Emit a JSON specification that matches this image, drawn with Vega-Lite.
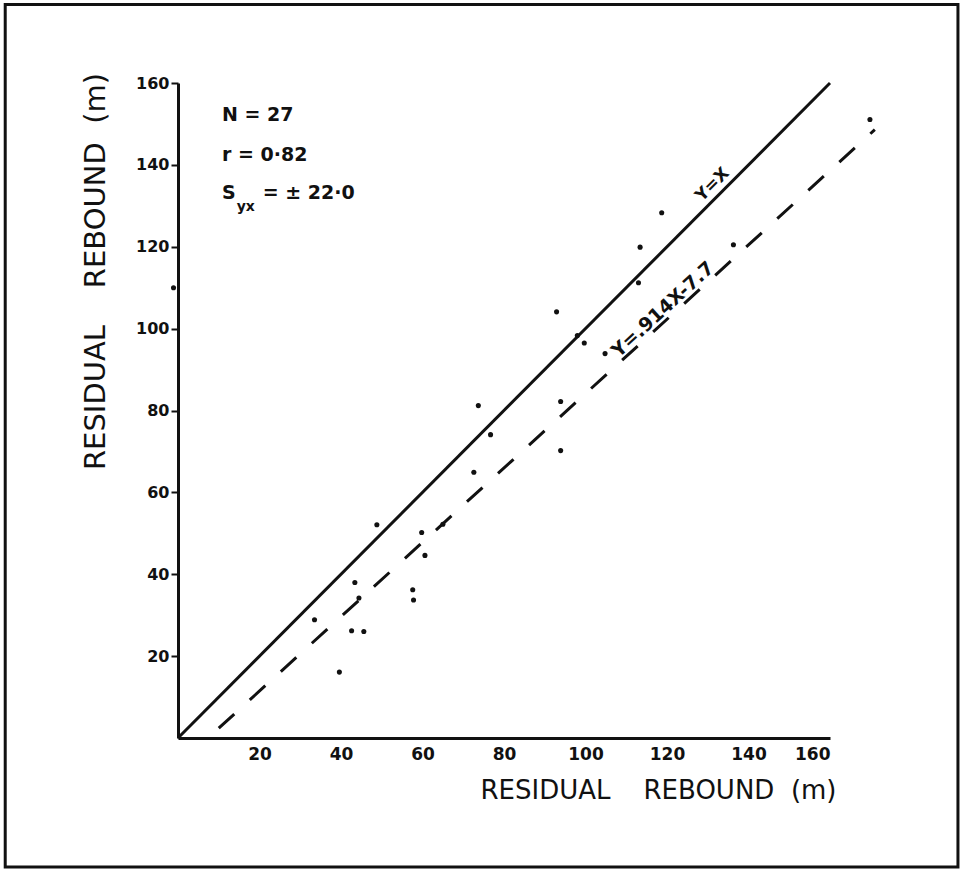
{
  "$schema": "https://vega.github.io/schema/vega-lite/v6.json",
  "autosize": {"type": "none"},
  "width": 652,
  "height": 655,
  "padding": {"left": 178, "top": 83, "right": 132, "bottom": 132},
  "background": "white",
  "config": {
    "view": {"stroke": null},
    "font": "DejaVu Sans",
    "axis": {"domainColor": "#111", "domainWidth": 3, "grid": false, "labelColor": "#111", "titleColor": "#111", "labelFont": "DejaVu Sans", "titleFont": "DejaVu Sans"}
  },
  "datasets": {
    "points": [
      {"x": 33.5, "y": 28.9}, {"x": 39.6, "y": 16.1}, {"x": 42.6, "y": 26.2}, {"x": 45.6, "y": 26.0},
      {"x": 43.4, "y": 38.0}, {"x": 44.4, "y": 34.2}, {"x": 48.8, "y": 52.1}, {"x": 57.6, "y": 36.2},
      {"x": 57.8, "y": 33.7}, {"x": 59.8, "y": 50.2}, {"x": 60.6, "y": 44.6}, {"x": 65.0, "y": 52.2},
      {"x": 72.6, "y": 64.9}, {"x": 73.7, "y": 81.2}, {"x": 76.7, "y": 74.1}, {"x": 92.9, "y": 104.1},
      {"x": 93.9, "y": 82.2}, {"x": 93.9, "y": 70.2}, {"x": 98.0, "y": 98.3}, {"x": 99.7, "y": 96.5},
      {"x": 104.8, "y": 93.9}, {"x": 113.0, "y": 111.2}, {"x": 113.4, "y": 119.9}, {"x": 118.7, "y": 128.3},
      {"x": 136.3, "y": 120.5}, {"x": 169.8, "y": 151.1}, {"x": -1.1, "y": 110.0}
    ],
    "oneToOne": [{"x": 0, "y": 0}, {"x": 160, "y": 160}],
    "regression": [{"x": 10, "y": 2.4}, {"x": 171, "y": 148.6}],
    "frame": [{"x1": -42.4, "x2": 191.4, "y1": -31.5, "y2": 179.2}],
    "stats": [
      {"x": 10.8, "y": 152.3, "t": "N = 27"},
      {"x": 10.8, "y": 142.5, "t": "r = 0·82"},
      {"x": 10.8, "y": 133.2, "t": "S"}
    ],
    "sub": [{"x": 14.4, "y": 131.4, "t": "yx"}],
    "stats2": [{"x": 20.8, "y": 133.2, "t": "= ± 22·0"}],
    "lab1": [{"x": 132, "y": 134.3, "t": "Y=X"}],
    "lab2": [{"x": 120, "y": 103.6, "t": "Y=.914X-7.7"}]
  },
  "layer": [
    {
      "data": {"name": "frame"},
      "mark": {"type": "rect", "fill": null, "stroke": "#111", "strokeWidth": 3, "clip": false},
      "encoding": {
        "x": {"field": "x1", "type": "quantitative", "scale": {"domain": [0, 160], "nice": false, "zero": false},
          "axis": {"values": [20, 40, 60, 80, 100, 120, 140, 160], "ticks": false, "labelFontSize": 17, "labelFontWeight": "bold", "labelPadding": 8,
            "title": "RESIDUAL\u00a0\u00a0\u00a0\u00a0REBOUND\u00a0\u00a0(m)", "titleFontSize": 26, "titleFontWeight": "normal", "titleAlign": "right", "titleX": 658, "titleY": 52, "titleBaseline": "middle"}},
        "x2": {"field": "x2"},
        "y": {"field": "y1", "type": "quantitative", "scale": {"domain": [0, 160], "nice": false, "zero": false},
          "axis": {"values": [20, 40, 60, 80, 100, 120, 140, 160], "ticks": true, "tickSize": 7, "tickWidth": 2, "tickColor": "#111", "labelFontSize": 16, "labelFontWeight": "bold", "labelPadding": 2,
            "title": "RESIDUAL\u00a0\u00a0\u00a0\u00a0REBOUND\u00a0\u00a0(m)", "titleFontSize": 29, "titleFontWeight": "normal", "titleAngle": -90, "titleAlign": "center", "titleBaseline": "middle", "titleX": -83, "titleY": 188}},
        "y2": {"field": "y2"}
      }
    },
    {
      "data": {"name": "oneToOne"},
      "mark": {"type": "line", "color": "#111", "strokeWidth": 3},
      "encoding": {"x": {"field": "x", "type": "quantitative"}, "y": {"field": "y", "type": "quantitative"}}
    },
    {
      "data": {"name": "regression"},
      "mark": {"type": "line", "color": "#111", "strokeWidth": 3, "strokeDash": [21, 21], "clip": false},
      "encoding": {"x": {"field": "x", "type": "quantitative"}, "y": {"field": "y", "type": "quantitative"}}
    },
    {
      "data": {"name": "points"},
      "mark": {"type": "circle", "color": "#111", "opacity": 1, "size": 26, "clip": false},
      "encoding": {"x": {"field": "x", "type": "quantitative"}, "y": {"field": "y", "type": "quantitative"}}
    },
    {
      "data": {"name": "stats"},
      "mark": {"type": "text", "align": "left", "baseline": "middle", "fontSize": 19, "fontWeight": "bold", "color": "#111"},
      "encoding": {"x": {"field": "x", "type": "quantitative"}, "y": {"field": "y", "type": "quantitative"}, "text": {"field": "t"}}
    },
    {
      "data": {"name": "sub"},
      "mark": {"type": "text", "align": "left", "baseline": "top", "fontSize": 14, "fontWeight": "bold", "color": "#111"},
      "encoding": {"x": {"field": "x", "type": "quantitative"}, "y": {"field": "y", "type": "quantitative"}, "text": {"field": "t"}}
    },
    {
      "data": {"name": "stats2"},
      "mark": {"type": "text", "align": "left", "baseline": "middle", "fontSize": 19, "fontWeight": "bold", "color": "#111"},
      "encoding": {"x": {"field": "x", "type": "quantitative"}, "y": {"field": "y", "type": "quantitative"}, "text": {"field": "t"}}
    },
    {
      "data": {"name": "lab1"},
      "mark": {"type": "text", "align": "center", "baseline": "alphabetic", "angle": -45, "fontSize": 17, "fontWeight": "bold", "color": "#111"},
      "encoding": {"x": {"field": "x", "type": "quantitative"}, "y": {"field": "y", "type": "quantitative"}, "text": {"field": "t"}}
    },
    {
      "data": {"name": "lab2"},
      "mark": {"type": "text", "align": "center", "baseline": "alphabetic", "angle": -42.5, "fontSize": 19, "fontWeight": "bold", "color": "#111"},
      "encoding": {"x": {"field": "x", "type": "quantitative"}, "y": {"field": "y", "type": "quantitative"}, "text": {"field": "t"}}
    }
  ]
}
